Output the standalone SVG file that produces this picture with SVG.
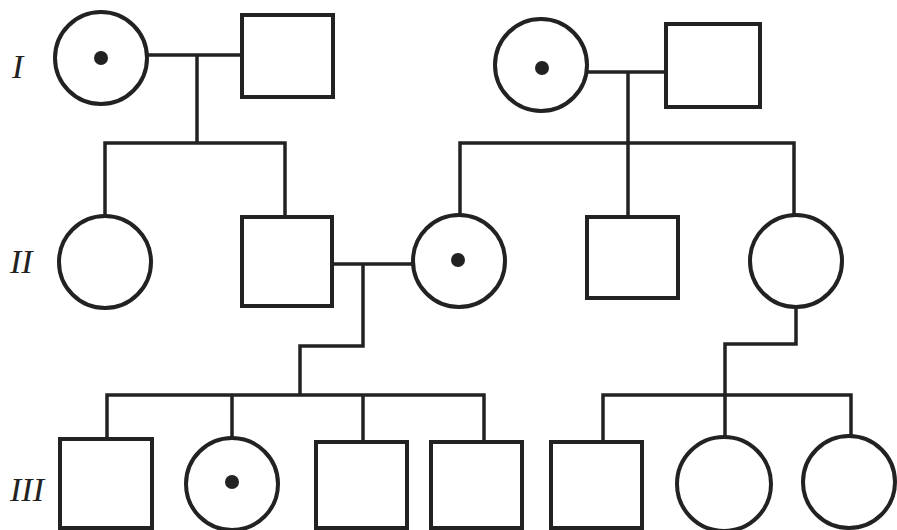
<svg xmlns="http://www.w3.org/2000/svg" width="897" height="530" viewBox="0 0 897 530">
<style>
.m{fill:#fff;stroke:#222;stroke-width:4}
.f{fill:#fff;stroke:#222;stroke-width:4}
.d{fill:#222}
.ln{fill:none;stroke:#222;stroke-width:3.5;stroke-linejoin:miter;stroke-linecap:square}
.lab{font-family:"Liberation Serif",serif;font-style:italic;font-size:34px;fill:#222}
</style>
<rect width="897" height="530" fill="#fff"/>
<g id="connectors">
<path class="ln" d="M148,55H241M197,55V143M105,143H285M105,143V215M285,143V217"/>
<path class="ln" d="M587,72H666M628,72V143M460,143H794M460,143V215M628,143V217M794,143V215"/>
<path class="ln" d="M332,264H413M363,264V346H300V395M107,395H484M107,395V438M232,395V437M363,395V442M484,395V442"/>
<path class="ln" d="M796,307V344H725V395M603,395H851M603,395V442M725,395V437M851,395V436"/>
</g>
<g id="labels">
<text class="lab" x="12" y="78">I</text>
<text class="lab" x="10" y="273">II</text>
<text class="lab" x="10" y="501">III</text>
</g>
<g id="I-1"><circle class="f" cx="101" cy="58" r="46"/><circle class="d" cx="101" cy="58" r="7"/></g>
<g id="I-2"><rect class="m" x="242" y="15" width="91" height="82"/></g>
<g id="I-3"><circle class="f" cx="541" cy="65" r="46"/><circle class="d" cx="542" cy="68" r="7"/></g>
<g id="I-4"><rect class="m" x="666" y="24" width="94" height="83"/></g>
<g id="II-1"><circle class="f" cx="105" cy="262" r="46"/></g>
<g id="II-2"><rect class="m" x="242" y="217" width="90" height="89"/></g>
<g id="II-3"><circle class="f" cx="459" cy="261" r="46"/><circle class="d" cx="458" cy="260" r="7"/></g>
<g id="II-4"><rect class="m" x="587" y="217" width="91" height="81"/></g>
<g id="II-5"><circle class="f" cx="796" cy="261" r="46"/></g>
<g id="III-1"><rect class="m" x="60" y="439" width="92" height="89"/></g>
<g id="III-2"><circle class="f" cx="232" cy="484" r="46"/><circle class="d" cx="232" cy="482" r="7"/></g>
<g id="III-3"><rect class="m" x="316" y="442" width="91" height="86"/></g>
<g id="III-4"><rect class="m" x="431" y="442" width="91" height="86"/></g>
<g id="III-5"><rect class="m" x="551" y="442" width="91" height="86"/></g>
<g id="III-6"><circle class="f" cx="724" cy="484" r="47"/></g>
<g id="III-7"><circle class="f" cx="849" cy="482" r="46"/></g>
</svg>
